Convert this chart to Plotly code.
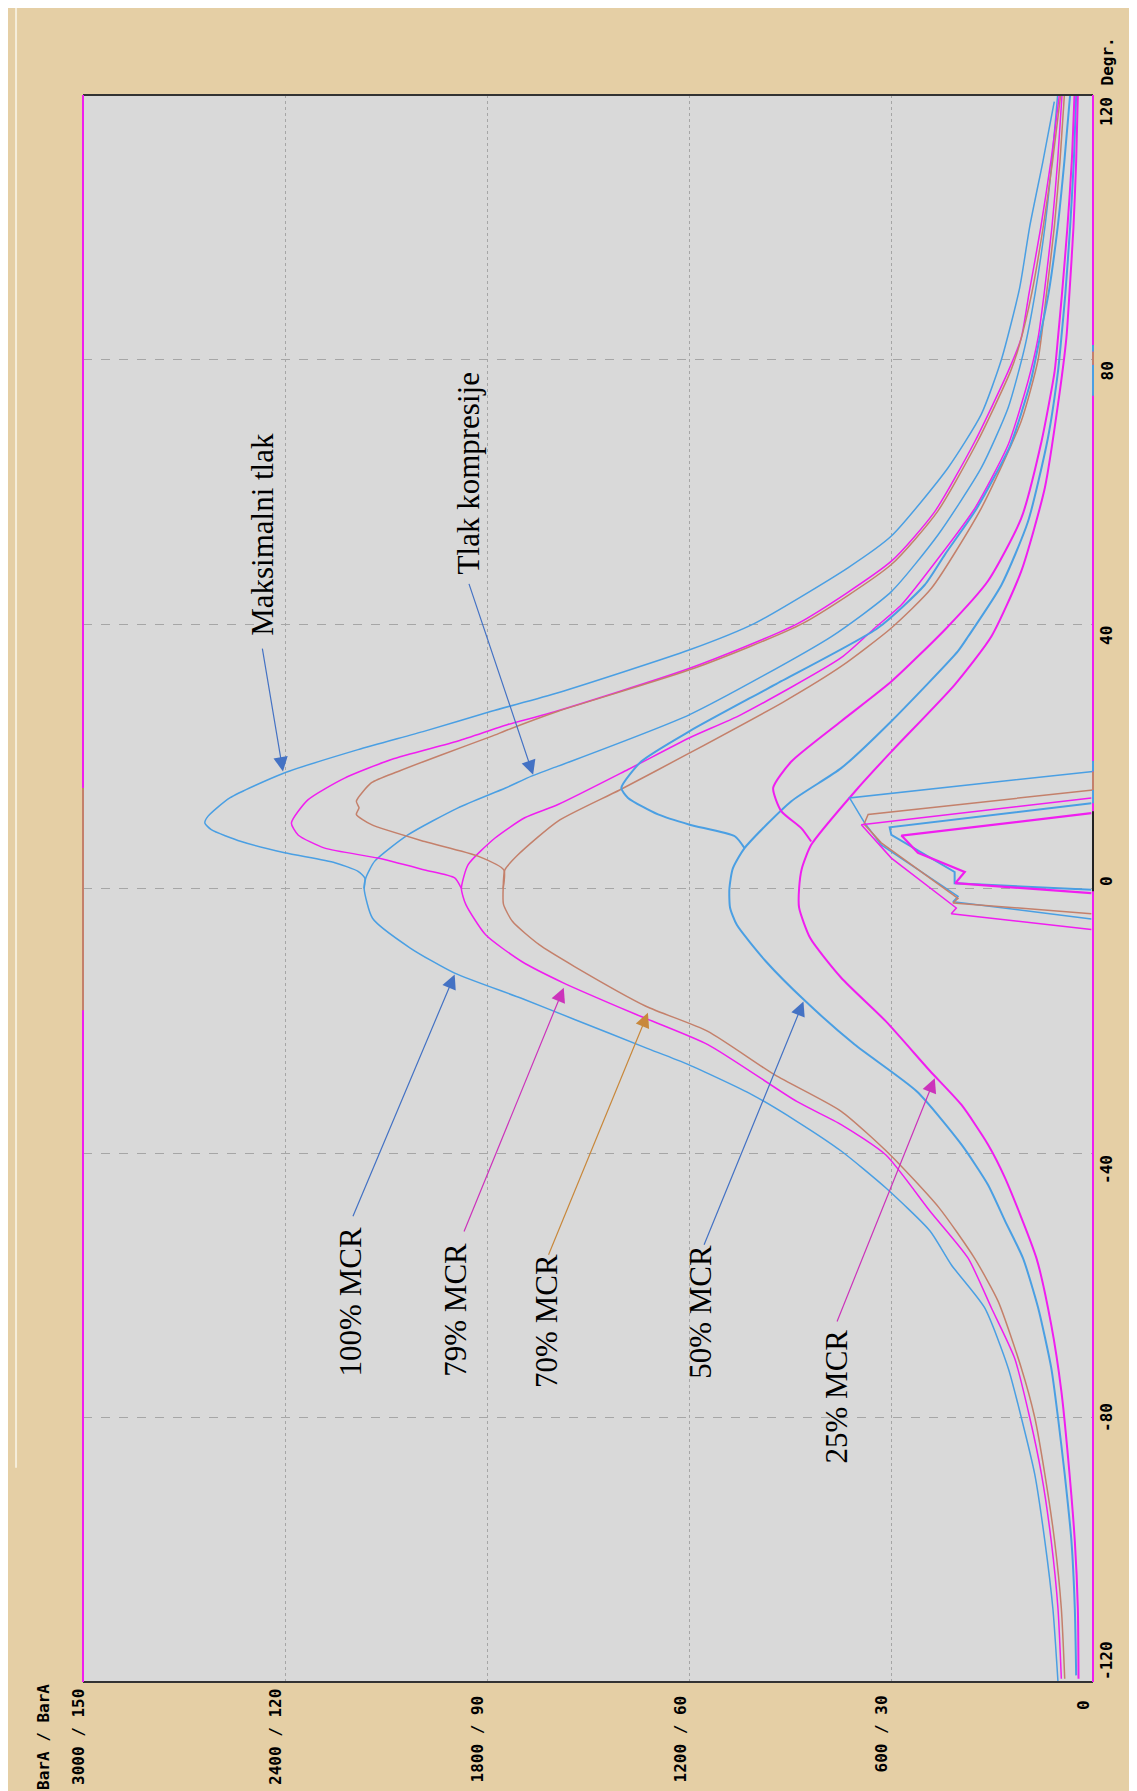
import plotly.graph_objects as go

# ---------------- data (pressure in BarA, crank angle in degrees) ----------------
comp100_theta = [-120, -109, -98.7, -88.6, -80, -72.5, -63.4, -56.9, -51.8, -45.3, -39.7, -35.2, -31.2, -26.6, -24.1,
                 -19.8, -16.6, -12.8, -9.0, -4.5, 0, 1.6, 4.1, 8.1, 12.2, 15.2, 17.0, 18.5, 26.3, 38.1, 44.9, 53.5,
                 63.6, 72.7, 81.8, 90, 100, 110, 120]
comp100_p = [104, 119, 143, 173, 213, 252, 322, 421, 484, 615, 748, 880, 1012, 1203, 1328,
             1540, 1698, 1896, 2028, 2140, 2165, 2160, 2134, 2035, 1886, 1745, 1668, 1589, 1198, 777, 599, 460,
             332, 252, 203, 172, 143, 122, 105]

fire100_theta = [0, 1.6, 2.6, 3.9, 5.4, 7.1, 8.9, 9.9, 10.9, 13.7, 17.4, 21.0, 23.8, 26.8, 29.6, 36.1, 40.1,
                 48.5, 53.3, 63.6, 71.7, 80, 90.8, 100.1, 109.9, 119]
fire100_p = [2165, 2163, 2183, 2252, 2401, 2530, 2619, 2638, 2629, 2564, 2406, 2183, 1985, 1787, 1589, 1198, 1005,
             728, 599, 431, 332, 272, 218, 188, 149, 115]

comp79_theta = [-119.5, -108.9, -98.7, -88.6, -80, -71, -63.4, -55.9, -48.8, -40.3, -35.7, -32.2, -23.6, -19.1,
                -14.3, -11, -7.0, -2.4, 0, 3.6, 7.6, 10.7, 12.7, 18, 22.8, 26.3, 34.9, 39.4, 42.9, 50.5, 57.5,
                67.1, 76.7, 83.3, 90, 100, 110, 120]
comp79_p = [94, 104, 124, 153, 188, 233, 302, 371, 484, 615, 748, 880, 1144, 1355,
            1572, 1698, 1804, 1863, 1876, 1856, 1777, 1688, 1589, 1381, 1198, 1045, 748, 648, 569, 451, 351,
            252, 193, 163, 145, 122, 105, 92]

fire79_theta = [0, 1.6, 2.8, 4.6, 6.1, 8.1, 9.9, 13.4, 16.7, 19.5, 22.3, 24.8, 26.5, 33.3, 40.1, 49.5, 57,
                67.6, 78.2, 83.3, 90, 100, 110, 120]
fire79_p = [1876, 1896, 1985, 2124, 2282, 2361, 2381, 2332, 2223, 2084, 1886, 1738, 1615, 1198, 876, 599, 470,
            351, 252, 213, 190, 155, 125, 100]

comp70_theta = [-119.5, -108.9, -98.7, -88.6, -80, -72.5, -62.4, -55.9, -48.3, -40.3, -33.7, -28.2, -21.6, -17.8,
                -11.8, -8.5, -5.0, -2.4, 0, 2.8, 5.1, 10.2, 14.9, 20.5, 28.2, 33.7, 39.4, 45.4, 57.5, 70.7, 80,
                90, 100, 110, 120]
comp70_p = [84, 94, 114, 143, 173, 213, 282, 352, 457, 602, 748, 945, 1144, 1328,
            1540, 1645, 1724, 1751, 1752, 1747, 1708, 1589, 1406, 1198, 920, 745, 599, 480, 332, 213, 163,
            138, 115, 98, 85]

fire70_theta = [0, 2.8, 4.9, 7.1, 9.65, 11.2, 12.2, 13.2, 16, 17.7, 20.2, 23, 24, 26.8, 33.3, 40.1, 49, 57,
                67.6, 78.2, 82.3, 90, 100, 110, 120]
fire70_p = [1752, 1750, 1827, 1985, 2143, 2188, 2180, 2188, 2143, 2064, 1936, 1787, 1738, 1589, 1185, 862, 599, 462,
            343, 245, 218, 182, 148, 120, 96]

comp50_theta = [-119, -108.9, -98.7, -88.6, -80, -72.5, -63.4, -55.9, -50.3, -44.8, -38.7, -30.7, -23.6, -17.1,
                -11, -5.5, -2.9, 0, 3, 6.1, 13.2, 18.2, 25.3, 35.9, 38.1, 45.9, 55.5, 68.1, 78.2, 83.3, 90, 100,
                110, 120]
comp50_p = [50, 54, 64, 84, 104, 124, 163, 208, 261, 312, 391, 523, 708, 853,
            972, 1058, 1078, 1080, 1070, 1035, 896, 748, 599, 401, 371, 272, 193, 134, 104, 94, 82, 68,
            57, 50]

fire50_theta = [6.1, 7.9, 9.65, 11.2, 13.7, 15.2, 19.2, 23.8, 30.8, 39.4, 45.9, 50.5, 57.5, 67.1, 76.7, 83.3,
                90, 100, 110, 120]
fire50_p = [1035, 1064, 1198, 1292, 1381, 1401, 1342, 1198, 946, 639, 500, 440, 345, 245, 185, 158,
            132, 105, 85, 68]

comp25_theta = [-119.5, -108.9, -98.7, -86.1, -76, -66, -55.9, -43.8, -38.7, -32.7, -27.6, -20.1, -13.5, -7.5,
                -2.9, 0, 3, 6.6, 15.2, 20.7, 30.8, 38.1, 48, 60.6, 73.2, 83.3, 90, 100, 110, 120]
comp25_p = [43, 45, 54, 74, 94, 124, 168, 261, 312, 391, 484, 615, 748, 840,
            873, 873, 865, 837, 698, 599, 411, 302, 213, 143, 104, 79, 70, 58, 50, 45]

fire25_theta = [7.1, 9.1, 11.7, 15.2, 19.2, 25.3, 31.3, 39.4, 46.5, 56, 67.6, 78.2, 83.3, 90, 100, 110, 120]
fire25_p = [837, 866, 926, 950, 896, 748, 599, 435, 312, 213, 153, 114, 104, 92, 76, 63, 55]

# small traces near TDC (second scale, shown in BarA units)
spike100_theta = [17.7, 13.7, 9.9, 6.6, -1.2, -2.0, -4.6]
spike100_p = [0, 723, 678, 629, 401, 416, 5]
spike70_theta = [14.9, 11.2, 9.75, 6.9, -1.5, -2.2, -3.8]
spike70_p = [0, 668, 680, 629, 401, 416, 5]
spike79_theta = [13.7, 9.65, 4.6, -2.95, -3.8, -6.2]
spike79_p = [5, 688, 599, 406, 421, 5]
spike50_theta = [12.9, 9.25, 8.1, 2.5, 0.8, -0.2]
spike50_p = [5, 604, 599, 411, 411, 5]
spike25_theta = [11.4, 8.0, 5.4, 2.5, 0.8, -0.7]
spike25_p = [5, 569, 520, 381, 409, 5]

# axis ticks
x_tick_vals = [3000, 2400, 1800, 1200, 600, 0]
x_tick_text = ["3000 / 150", "2400 / 120", "1800 / 90", "1200 / 60", "600 / 30", "0"]
y_tick_vals = [120, 80, 40, 0, -40, -80, -120]
y_tick_text = ["120", "80", "40", "0", "-40", "-80", "-120"]
grid_x = [600, 1200, 1800, 2400]
grid_y = [-80, -40, 0, 40, 80]

# labels and arrows
label_text = ["Maksimalni tlak", "Tlak kompresije", "100% MCR", "79% MCR", "70% MCR", "50% MCR", "25% MCR"]
label_p = [2465, 1856, 2205, 1892, 1622, 1164, 763]
label_theta = [53.5, 62.8, -62.5, -63.7, -65.4, -64.0, -76.8]
arrow_head_p = [2406, 1663, 1896, 1572, 1322, 860, 470]
arrow_head_theta = [17.7, 17.2, -13.0, -15.0, -18.8, -17.1, -28.7]
arrow_tail_p = [2468, 1855, 2200, 1870, 1619, 1157, 762]
arrow_tail_theta = [36.5, 46.3, -49.8, -52.1, -55.6, -54.1, -65.7]

# coloured pieces on the frame edges (theta ranges)
left_edge_brown = [(-18.4, 15.2)]
right_edge_pieces = [(-0.4, 11.7, "black"), (12.9, 14.9, "blue"), (14.9, 17.7, "brown"), (17.7, 19.3, "blue"),
                     (74.5, 79.2, "blue"), (79.2, 81.2, "brown"), (81.2, 82.2, "blue")]

# ---------------- styles ----------------
TAN = "#e5cfa5"
GRAY = "#d9d9d9"
BLUE = "#4a9fe3"
MAGENTA = "#f01ef0"
BROWN = "#c4806b"
ARROW_BLUE = "#4472c4"
ARROW_MAG = "#cc33bb"
ARROW_BROWN = "#c8883c"
GRID = "#a6a6a6"
COLMAP = {"blue": BLUE, "brown": BROWN, "black": "#222222", "magenta": MAGENTA}

fig = go.Figure()

curves = [
    (comp100_theta, comp100_p, BLUE, 1.5, True),
    (fire100_theta, fire100_p, BLUE, 1.5, True),
    (comp79_theta, comp79_p, MAGENTA, 1.5, True),
    (fire79_theta, fire79_p, MAGENTA, 1.5, True),
    (comp70_theta, comp70_p, BROWN, 1.5, True),
    (fire70_theta, fire70_p, BROWN, 1.5, True),
    (comp50_theta, comp50_p, BLUE, 2.0, True),
    (fire50_theta, fire50_p, BLUE, 2.0, True),
    (comp25_theta, comp25_p, MAGENTA, 2.0, True),
    (fire25_theta, fire25_p, MAGENTA, 2.0, True),
    (spike100_theta, spike100_p, BLUE, 1.5, False),
    (spike70_theta, spike70_p, BROWN, 1.5, False),
    (spike79_theta, spike79_p, MAGENTA, 1.5, False),
    (spike50_theta, spike50_p, BLUE, 2.0, False),
    (spike25_theta, spike25_p, MAGENTA, 2.2, False),
]
for th, p, col, w, smooth in curves:
    line = dict(color=col, width=w)
    if smooth:
        line.update(shape="spline", smoothing=0.6)
    fig.add_trace(go.Scatter(x=p, y=th, mode="lines", line=line, hoverinfo="skip", showlegend=False))

TICKFONT = dict(family="DejaVu Sans Mono", size=16, color="black", weight="bold")
LABELFONT = dict(family="Liberation Serif", size=31, color="black")

annotations = []
# x tick labels (rotated)
x_shift = [-5, -10, -10, -9, -10, -10]
y_shift = [-5, -5, -12, -12, -12, -16]
for v, t, xs, ys in zip(x_tick_vals, x_tick_text, x_shift, y_shift):
    annotations.append(dict(x=v, xref="x", y=0, yref="paper", text=t, showarrow=False, textangle=-90,
                            xanchor="center", yanchor="top", xshift=xs, yshift=ys, font=TICKFONT))
annotations.append(dict(x=-0.0396, xref="paper", y=0, yref="paper", text="BarA / BarA", showarrow=False,
                        textangle=-90, xanchor="center", yanchor="top", yshift=0, font=TICKFONT))
# y tick labels (rotated)
y_anchor = ["top", "top", "top", "bottom", "top", "middle", "bottom"]
for v, t, ya in zip(y_tick_vals, y_tick_text, y_anchor):
    annotations.append(dict(x=1, xref="paper", y=v, yref="y", text=t, showarrow=False, textangle=-90,
                            xanchor="left", yanchor=ya, xshift=2, font=TICKFONT))
annotations.append(dict(x=1, xref="paper", y=1, yref="paper", text="Degr.", showarrow=False, textangle=-90,
                        xanchor="left", yanchor="bottom", xshift=2, yshift=7, font=TICKFONT))

# curve labels and arrows
arrow_cols = [ARROW_BLUE, ARROW_BLUE, ARROW_BLUE, ARROW_MAG, ARROW_BROWN, ARROW_BLUE, ARROW_MAG]
for t, lp, lt in zip(label_text, label_p, label_theta):
    annotations.append(dict(x=lp, y=lt, xref="x", yref="y", text=t, showarrow=False, textangle=-90,
                            xanchor="center", yanchor="middle", font=LABELFONT))
for hp, ht, tp, tt, c in zip(arrow_head_p, arrow_head_theta, arrow_tail_p, arrow_tail_theta, arrow_cols):
    annotations.append(dict(x=hp, y=ht, xref="x", yref="y", ax=tp, ay=tt, axref="x", ayref="y", text="",
                            showarrow=True, arrowhead=2, arrowsize=2.4, arrowwidth=1.2, arrowcolor=c,
                            standoff=0, startstandoff=0))

shapes = []
# frame
shapes.append(dict(type="line", xref="paper", yref="paper", x0=0, x1=1, y0=1, y1=1,
                   line=dict(color="#333333", width=2)))
shapes.append(dict(type="line", xref="paper", yref="paper", x0=0, x1=1, y0=0, y1=0,
                   line=dict(color="#333333", width=2)))
shapes.append(dict(type="line", xref="paper", yref="paper", x0=0, x1=0, y0=0, y1=1,
                   line=dict(color=MAGENTA, width=2)))
shapes.append(dict(type="line", xref="paper", yref="paper", x0=1, x1=1, y0=0, y1=1,
                   line=dict(color=MAGENTA, width=2)))
for a, b in left_edge_brown:
    shapes.append(dict(type="line", xref="paper", yref="y", x0=0, x1=0, y0=a, y1=b,
                       line=dict(color=BROWN, width=2)))
for a, b, c in right_edge_pieces:
    shapes.append(dict(type="line", xref="paper", yref="y", x0=1, x1=1, y0=a, y1=b,
                       line=dict(color=COLMAP[c], width=2)))
# faint light line at the far left of the picture
shapes.append(dict(type="line", xref="paper", yref="paper", x0=-0.0663, x1=-0.0663, y0=0.135, y1=1.06,
                   line=dict(color="#f6eedb", width=2)))

fig.update_layout(
    width=1137, height=1791, autosize=False,
    margin=dict(l=75, r=52, t=87, b=117, pad=0),
    paper_bgcolor=TAN, plot_bgcolor=GRAY,
    showlegend=False,
    xaxis=dict(range=[3000, 0], tickvals=grid_x, showticklabels=False, ticks="",
               showgrid=True, gridcolor=GRID, gridwidth=1, griddash="dot",
               zeroline=False, showline=False, fixedrange=True),
    yaxis=dict(range=[-120, 120], tickvals=grid_y, showticklabels=False, ticks="",
               showgrid=True, gridcolor=GRID, gridwidth=1, griddash="dash",
               zeroline=False, showline=False, fixedrange=True),
    annotations=annotations,
    shapes=shapes,
)

fig.write_html("out.html")
